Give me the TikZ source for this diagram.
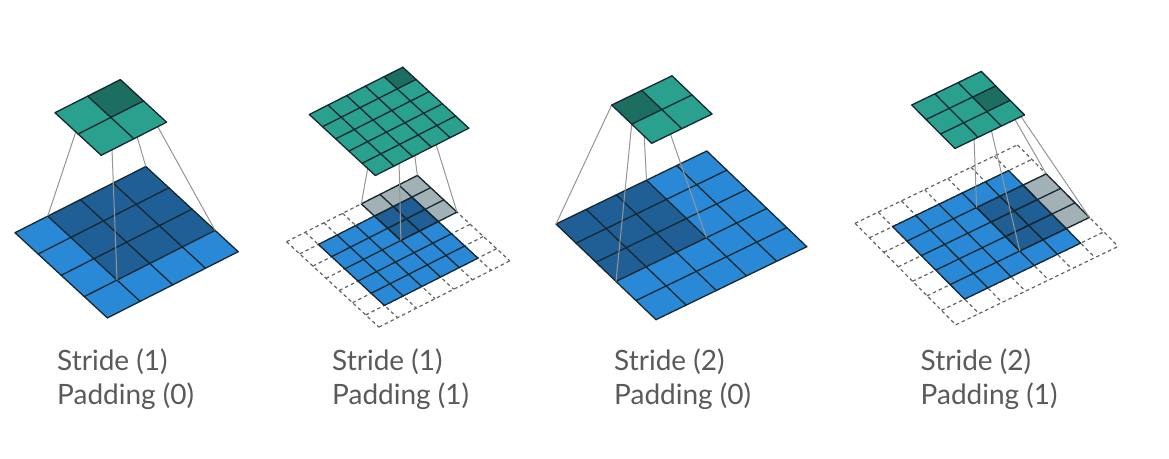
\documentclass[tikz,border=0pt]{standalone}
\usepackage{fontspec}
\setmainfont{Lato}
\definecolor{inblue}{RGB}{42,137,214}
\definecolor{kdark}{RGB}{31,95,150}
\definecolor{tealc}{RGB}{42,160,142}
\definecolor{tealdark}{RGB}{27,110,96}
\definecolor{kgray}{RGB}{162,177,181}
\definecolor{gridc}{RGB}{22,40,48}
\definecolor{connc}{RGB}{150,150,150}
\definecolor{dashc}{RGB}{100,100,100}
\definecolor{txtc}{RGB}{90,90,90}
\newcommand\mygrid[5]{%
  \foreach \k in {#1,...,#3} {\draw[#5] (\k,#2) -- (\k,#4);}
  \foreach \k in {#2,...,#4} {\draw[#5] (#1,\k) -- (#3,\k);}}
\newcommand\myquad[5]{\fill[#5] (#1,#2) -- (#3,#2) -- (#3,#4) -- (#1,#4) -- cycle;}
\tikzset{
  gl/.style={draw=gridc, line width=1.3pt, line cap=round},
  dl/.style={draw=dashc, line width=1.2pt, dash pattern=on 3.5pt off 3pt},
  conn/.style={draw=connc, line width=1pt},
  lbl/.style={text=txtc, font=\fontsize{28}{32}\selectfont, inner sep=0pt, anchor=base west},
  p1/.style={x={(32.7pt,16.55pt)}, y={(23.1pt,-21.3pt)}},
  p2/.style={x={(18.7pt,9.46pt)}, y={(13.2pt,-12.2pt)}},
  p3/.style={x={(30.16pt,14.6pt)}, y={(20pt,-19.14pt)}},
  p4/.style={x={(23.2pt,11.2pt)}, y={(14.4pt,-14.5pt)}},
}
\begin{document}
\begin{tikzpicture}[x=1pt,y=-1pt]
\useasboundingbox[fill=white] (0,0) rectangle (1169,458);

% ===================== Panel 1 =====================
\begin{scope}[shift={(15pt,-232.7pt)}, p1]
  \myquad{0}{0}{4}{4}{inblue}
  \myquad{1}{0}{4}{3}{kdark}
  \mygrid{0}{0}{4}{4}{gl}
  \coordinate (k1a) at (1,0); \coordinate (k1b) at (4,0);
  \coordinate (k1c) at (4,3); \coordinate (k1d) at (1,3);
\end{scope}
\begin{scope}[shift={(55pt,-112.7pt)}, p1]
  \coordinate (o1a) at (1,0); \coordinate (o1b) at (2,0);
  \coordinate (o1c) at (2,1); \coordinate (o1d) at (1,1);
\end{scope}
\draw[conn] (o1a) -- (k1a) (o1b) -- (k1b) (o1c) -- (k1c) (o1d) -- (k1d);
\begin{scope}[shift={(55pt,-112.7pt)}, p1]
  \myquad{0}{0}{2}{2}{tealc}
  \myquad{1}{0}{2}{1}{tealdark}
  \mygrid{0}{0}{2}{2}{gl}
\end{scope}

% ===================== Panel 2 =====================
\begin{scope}[shift={(286.5pt,-241.7pt)}, p2]
  \mygrid{0}{0}{7}{7}{dl}
  \myquad{1}{1}{6}{6}{inblue}
  \myquad{4}{0}{7}{3}{kgray}
  \myquad{4}{1}{6}{3}{kdark}
  \mygrid{1}{1}{6}{6}{gl}
  \mygrid{4}{0}{7}{3}{gl}
  \coordinate (k2a) at (4,0); \coordinate (k2b) at (7,0);
  \coordinate (k2c) at (7,3); \coordinate (k2d) at (4,3);
\end{scope}
\begin{scope}[shift={(309.3pt,-114.5pt)}, p2]
  \coordinate (o2a) at (4,0); \coordinate (o2b) at (5,0);
  \coordinate (o2c) at (5,1); \coordinate (o2d) at (4,1);
\end{scope}
\draw[conn] (o2a) -- (k2a) (o2b) -- (k2b) (o2c) -- (k2c) (o2d) -- (k2d);
\begin{scope}[shift={(309.3pt,-114.5pt)}, p2]
  \myquad{0}{0}{5}{5}{tealc}
  \myquad{4}{0}{5}{1}{tealdark}
  \mygrid{0}{0}{5}{5}{gl}
\end{scope}

% ===================== Panel 3 =====================
\begin{scope}[shift={(556pt,-224pt)}, p3]
  \myquad{0}{0}{5}{5}{inblue}
  \myquad{0}{0}{3}{3}{kdark}
  \mygrid{0}{0}{5}{5}{gl}
  \coordinate (k3a) at (0,0); \coordinate (k3b) at (3,0);
  \coordinate (k3c) at (3,3); \coordinate (k3d) at (0,3);
\end{scope}
\begin{scope}[shift={(611.7pt,-105pt)}, p3]
  \coordinate (o3a) at (0,0); \coordinate (o3b) at (1,0);
  \coordinate (o3c) at (1,1); \coordinate (o3d) at (0,1);
\end{scope}
\draw[conn] (o3a) -- (k3a) (o3b) -- (k3b) (o3c) -- (k3c) (o3d) -- (k3d);
\begin{scope}[shift={(611.7pt,-105pt)}, p3]
  \myquad{0}{0}{2}{2}{tealc}
  \myquad{0}{0}{1}{1}{tealdark}
  \mygrid{0}{0}{2}{2}{gl}
\end{scope}

% ===================== Panel 4 =====================
\begin{scope}[shift={(855pt,-223.3pt)}, p4]
  \mygrid{0}{0}{7}{7}{dl}
  \myquad{1}{1}{6}{6}{inblue}
  \myquad{4}{2}{7}{5}{kgray}
  \myquad{4}{2}{6}{5}{kdark}
  \mygrid{1}{1}{6}{6}{gl}
  \mygrid{4}{2}{7}{5}{gl}
  \coordinate (k4a) at (4,2); \coordinate (k4b) at (7,2);
  \coordinate (k4c) at (7,5); \coordinate (k4d) at (4,5);
\end{scope}
\begin{scope}[shift={(911.7pt,-105pt)}, p4]
  \coordinate (o4a) at (2,1); \coordinate (o4b) at (3,1);
  \coordinate (o4c) at (3,2); \coordinate (o4d) at (2,2);
\end{scope}
\draw[conn] (o4a) -- (k4a) (o4b) -- (k4b) (o4c) -- (k4c) (o4d) -- (k4d);
\begin{scope}[shift={(911.7pt,-105pt)}, p4]
  \myquad{0}{0}{3}{3}{tealc}
  \myquad{2}{1}{3}{2}{tealdark}
  \mygrid{0}{0}{3}{3}{gl}
\end{scope}

% ===================== Labels =====================
\node[lbl] (s1) at (57,370) {Stride (1)};
\node[lbl] (q1) at (57,404) {Padding (0)};
\node[lbl] (s2) at (332,370) {Stride (1)};
\node[lbl] (q2) at (332,404) {Padding (1)};
\node[lbl] (s3) at (614,370) {Stride (2)};
\node[lbl] (q3) at (614,404) {Padding (0)};
\node[lbl] (s4) at (920.5,370) {Stride (2)};
\node[lbl] (q4) at (920.5,404) {Padding (1)};
\end{tikzpicture}
\end{document}
